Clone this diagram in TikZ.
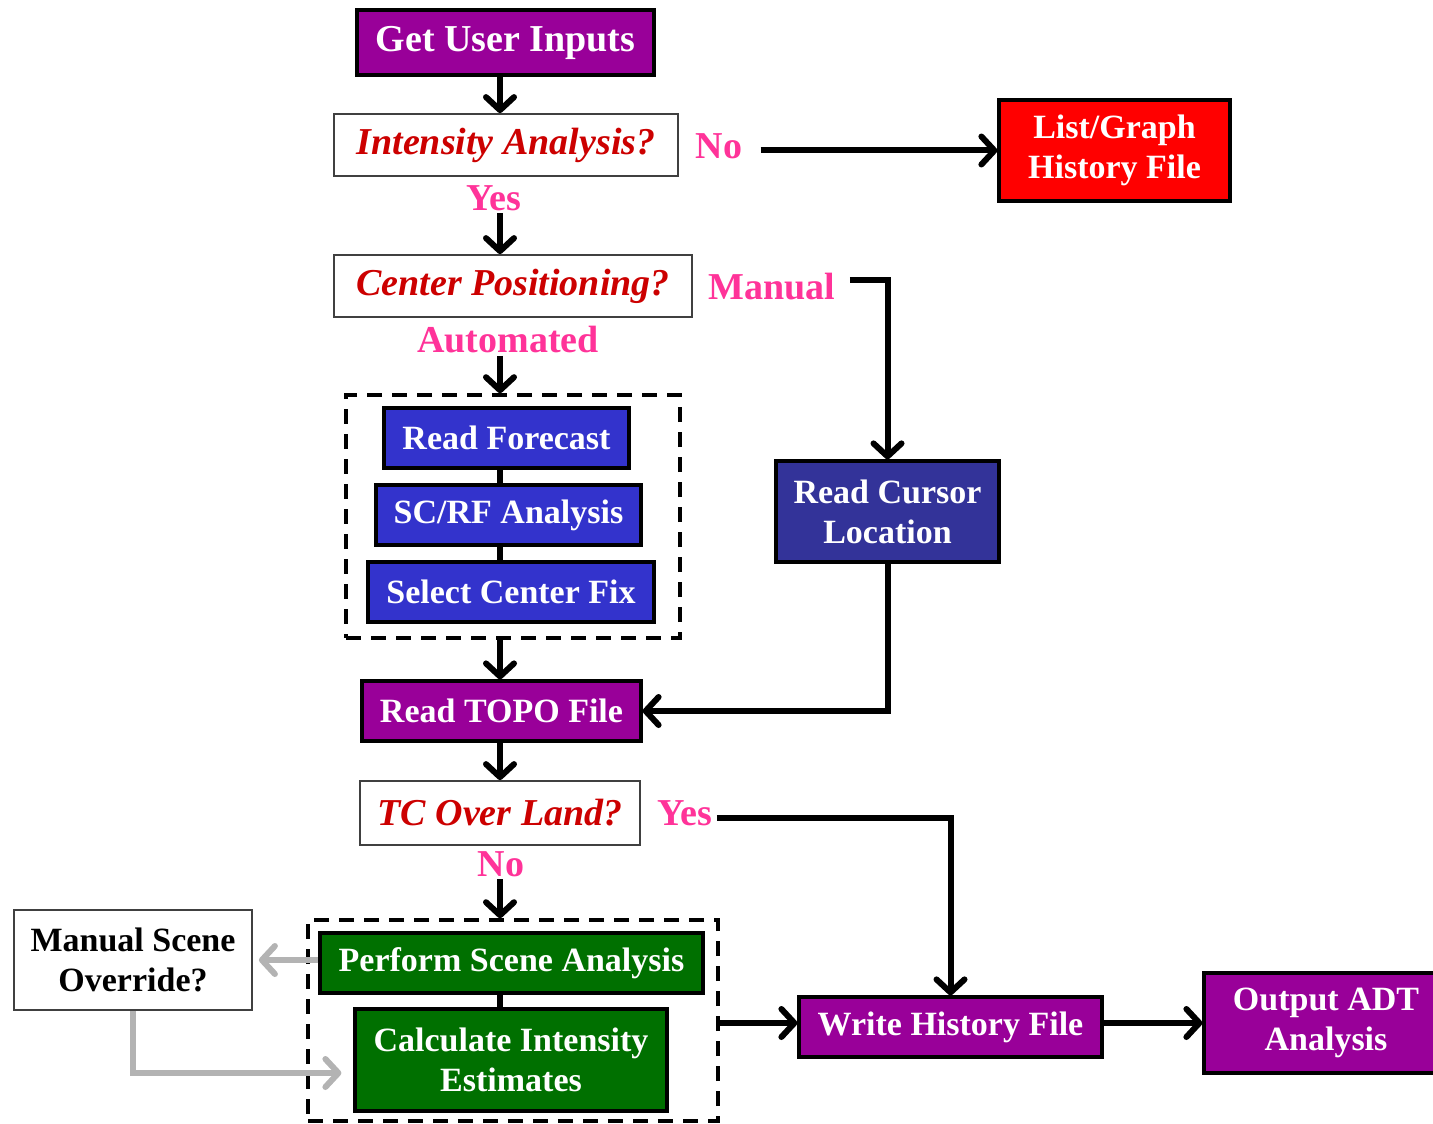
\documentclass[tikz,border=0pt]{standalone}
\usepackage{fontspec}
\setmainfont{Liberation Serif}
\usepackage{tikz}
\usetikzlibrary{arrows.meta,positioning}
\usepackage{xcolor}
\definecolor{boxpurple}{HTML}{990099}
\definecolor{boxred}{HTML}{FF0000}
\definecolor{boxblue}{HTML}{3333CC}
\definecolor{boxnavy}{HTML}{333399}
\definecolor{boxgreen}{HTML}{007000}
\definecolor{askred}{HTML}{CC0000}
\definecolor{answerpink}{HTML}{FF3399}
\definecolor{flowgray}{HTML}{B3B3B3}

\begin{document}
\begin{tikzpicture}[x=0.5pt,y=-0.5pt,>={Straight Barb[length=6.5pt,width=14pt,round]},
  box/.style={draw=black, line width=1.6pt, text=white, align=center, inner sep=0pt,
    font=\bfseries\fontsize{17}{20}\selectfont},
  ask/.style={draw=black!75, line width=0.9pt, fill=white, text=askred, inner sep=0pt,
    font=\bfseries\itshape\fontsize{19}{22}\selectfont},
  answer/.style={text=answerpink, inner sep=1pt, font=\bfseries\fontsize{19}{22}\selectfont},
  group/.style={draw, line width=1.8pt, dash pattern=on 7.5pt off 5pt, inner sep=0pt},
  flow/.style={->, line width=3pt},
  link/.style={line width=3pt},
  grayflow/.style={->, line width=3pt, draw=flowgray}]
\useasboundingbox (0,0) rectangle (1433,1123);
\coordinate (col) at (500,0);
\node[box, fill=boxpurple, minimum width=148.5pt, minimum height=32.5pt, font=\bfseries\fontsize{19}{22}\selectfont] (inputs) at (505.5,42.5) {Get User Inputs};
\node[ask, minimum width=172pt, minimum height=31pt] (intensity) at (506,145) {Intensity Analysis?};
\node[answer] (nolist) at (719,146) {No};
\node[box, fill=boxred, minimum width=115.5pt, minimum height=50.5pt] (listgraph) at (1114.5,150.5) {List/Graph\\History File};
\node[answer] (yesint) at (494,198) {Yes};
\node[ask, minimum width=179pt, minimum height=31pt] (centerpos) at (513,286) {Center Positioning?};
\node[answer] (manual) at (772,287) {Manual};
\node[answer] (automated) at (508,340) {Automated};
\node[group, minimum width=167pt, minimum height=121.5pt] (autogroup) at (513,516.5) {};
\node[box, fill=boxblue, minimum width=122.5pt, minimum height=30pt] (forecast) at (506.5,438) {Read Forecast};
\node[box, fill=boxblue, minimum width=132.5pt, minimum height=30pt] (scrf) at (508.5,515) {SC/RF Analysis};
\node[box, fill=boxblue, minimum width=143pt, minimum height=30pt] (centerfix) at (511,592) {Select Center Fix};
\node[box, fill=boxnavy, minimum width=111.5pt, minimum height=50.5pt] (cursor) at (887.5,511.5) {Read Cursor\\Location};
\node[box, fill=boxpurple, minimum width=139.5pt, minimum height=30pt] (topo) at (501.5,711) {Read TOPO File};
\node[ask, minimum width=140pt, minimum height=32pt] (overland) at (500,813) {TC Over Land?};
\node[answer] (yesland) at (685,813) {Yes};
\node[answer] (noland) at (501,864) {No};
\node[group, minimum width=205pt, minimum height=100.5pt] (scenegroup) at (513,1020.5) {};
\node[box, fill=boxgreen, minimum width=191.5pt, minimum height=30pt] (scene) at (511.5,963) {Perform Scene Analysis};
\node[box, fill=boxgreen, minimum width=156pt, minimum height=51pt] (intest) at (511,1060) {Calculate Intensity\\Estimates};
\node[ask, text=black, align=center, minimum width=119pt, minimum height=50pt, font=\bfseries\fontsize{17}{20}\selectfont] (override) at (133,960) {Manual Scene\\Override?};
\node[box, fill=boxpurple, minimum width=151.5pt, minimum height=30pt] (history) at (950.5,1027) {Write History File};
\node[box, fill=boxpurple, minimum width=122pt, minimum height=50pt] (output) at (1326,1023) {Output ADT\\Analysis};
\draw[flow] (inputs.south -| col) -- (intensity.north -| col);
\draw[flow] ([xshift=8pt]nolist.east |- listgraph.west) -- (listgraph.west);
\draw[flow] (yesint.south -| col) -- (centerpos.north -| col);
\draw[flow] ([xshift=6pt,yshift=3.5pt]manual.east) -| (cursor.north);
\draw[flow] (automated.south -| col) -- (autogroup.north -| col);
\draw[link] (forecast.south -| col) -- (scrf.north -| col);
\draw[link] (scrf.south -| col) -- (centerfix.north -| col);
\draw[flow] (autogroup.south -| col) -- (topo.north -| col);
\draw[flow] (cursor.south) |- (topo.east);
\draw[flow] (topo.south -| col) -- (overland.north -| col);
\draw[flow] ([xshift=1pt,yshift=-2.5pt]yesland.east) -| (history.north);
\draw[flow] (noland.south -| col) -- (scenegroup.north -| col);
\draw[link] (scene.south -| col) -- (intest.north -| col);
\draw[grayflow, shorten >=3pt] (scene.west |- override.east) -- (override.east);
\draw[grayflow, shorten >=6pt] (override.south) |- ([yshift=-6.5pt]intest.west);
\draw[flow] (scenegroup.east |- output.west) -- (history.west |- output.west);
\draw[flow] (history.east |- output.west) -- (output.west);
\end{tikzpicture}
\end{document}
